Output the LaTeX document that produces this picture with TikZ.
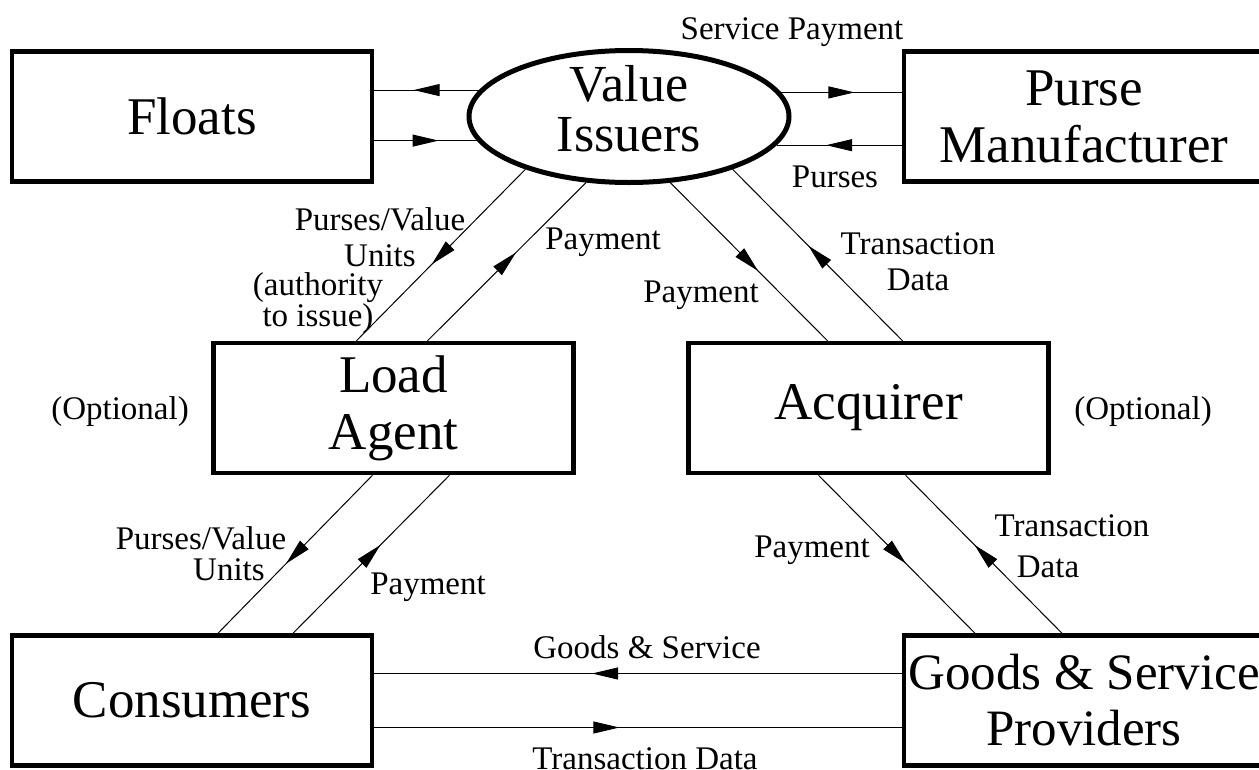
\documentclass[tikz,border=0pt]{standalone}
\usepackage{fontspec}
\setmainfont{Liberation Serif}
\usepackage{tikz}
\usetikzlibrary{arrows.meta, positioning, shapes.geometric, decorations.markings}

\begin{document}
\begin{tikzpicture}[x=1pt, y=-1pt, on grid,
    box/.style={draw, line width=4.5pt, minimum width=360pt, minimum height=130pt,
        inner sep=0pt, align=center, font=\fontsize{53}{57}\selectfont},
    issuer/.style={ellipse, draw, line width=5pt, minimum width=320pt,
        minimum height=132pt, inner sep=0pt},
    lab/.style={align=center, inner sep=0pt, font=\fontsize{33}{36}\selectfont},
    flow/.style={line width=1pt},
    mid arrow/.style={postaction={decorate}, decoration={markings,
        mark=at position #1 with {\pgftransformxshift{13pt}\arrow{Triangle[length=26pt, width=12pt]}}}},
    mid arrow/.default=0.5]

    \useasboundingbox (0,0) rectangle (1259,769);
    \clip (0,0) rectangle (1259,769);

    % Définition des acteurs
    \node[box] (F) at (192,116.5) {Floats};
    \node[issuer, right=437pt of F] (VI) {};
    \node[align=center, inner sep=0pt, font=\fontsize{52}{50}\selectfont] (VItext) at ([yshift=8pt]VI.center) {Value\\Issuers};
    \node[box, right=455pt of VI] (PM) {Purse\\Manufacturer};
    \node[box, below right=291.5pt and 201.5pt of F] (LA) {Load\\Agent};
    \node[box, right=475pt of LA] (AC) {Acquirer};
    \node[box, below=584pt of F] (C) {Consumers};
    \node[box, right=892pt of C, font=\fontsize{51}{56}\selectfont] (GS) {Goods \& Service\\Providers};

    % Flux entre les acteurs
    \draw[flow, mid arrow] (VI.170) -- (VI.170 -| F.east);
    \draw[flow, mid arrow] (VI.189 -| F.east) -- (VI.189);
    \draw[flow, mid arrow] (VI.9) -- (VI.9 -| PM.west);
    \draw[flow, mid arrow] (VI.349 -| PM.west) -- (VI.349);
    \draw[flow, mid arrow] (VI.207) -- ([xshift=-37pt]LA.north);
    \draw[flow, mid arrow] ([xshift=34pt]LA.north) -- (VI.237);
    \draw[flow, mid arrow] (VI.302) -- ([xshift=-41pt]AC.north);
    \draw[flow, mid arrow] ([xshift=34pt]AC.north) -- (VI.333);
    \draw[flow, mid arrow] ([xshift=-21pt]LA.south) -- ([xshift=26pt]C.north);
    \draw[flow, mid arrow] ([xshift=101pt]C.north) -- ([xshift=56pt]LA.south);
    \draw[flow, mid arrow] ([xshift=-50pt]AC.south) -- ([xshift=-109pt]GS.north);
    \draw[flow, mid arrow] ([xshift=-22pt]GS.north) -- ([xshift=37pt]AC.south);
    \draw[flow, mid arrow=0.5625] ([yshift=27pt]GS.west) -- ([yshift=27pt]GS.west -| C.east);
    \draw[flow, mid arrow=0.44] ([yshift=-27pt]C.east) -- ([yshift=-27pt]C.east -| GS.west);

    % Étiquettes des flux
    \node[lab] (sp) at (792,32) {Service Payment};
    \node[lab] (pu) at (835,177) {Purses};
    \node[lab] (pvu1) at (380,237) {Purses/Value\\Units};
    \node[lab, font=\fontsize{33}{26}\selectfont] (auth) at (318,303) {(authority\\to issue)};
    \node[lab] (pay1) at (603,242) {Payment};
    \node[lab] (pay2) at (701,295) {Payment};
    \node[lab] (td1) at (918,262) {Transaction\\Data};
    \node[lab] (opt1) at (120,412) {(Optional)};
    \node[lab] (opt2) at (1143,412) {(Optional)};
    \node[lab] (pv2) at (201,538) {Purses/Value};
    \node[lab] (un2) at (229,570) {Units};
    \node[lab] (pay3) at (428,587) {Payment};
    \node[lab] (pay4) at (812,550) {Payment};
    \node[lab] (tr2) at (1072,526) {Transaction};
    \node[lab] (da2) at (1048,567) {Data};
    \node[lab] (gs) at (647,647) {Goods \& Service};
    \node[lab] (td3) at (645,759) {Transaction Data};

\end{tikzpicture}
\end{document}
